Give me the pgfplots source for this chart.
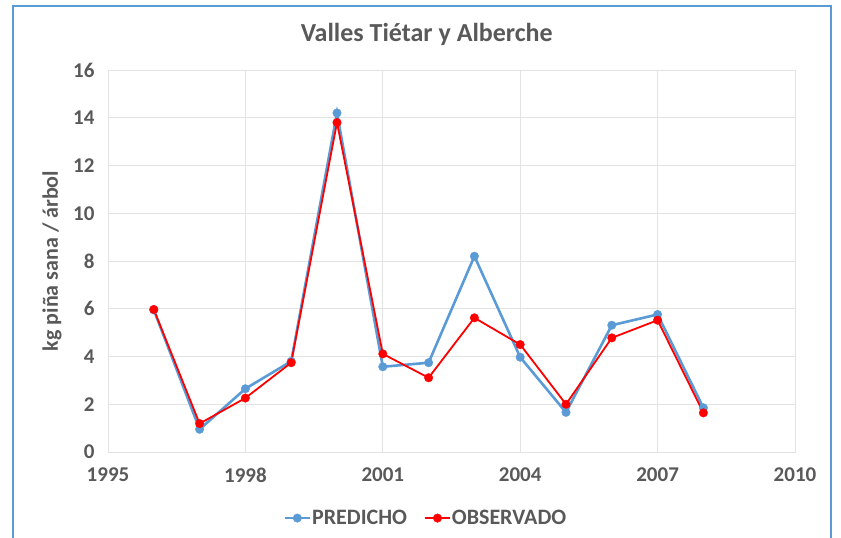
\documentclass[border=0pt]{standalone}
\usepackage{fontspec}
\setmainfont{Carlito}
\usepackage{pgfplots}
\pgfplotsset{compat=1.18}
\definecolor{pblue}{HTML}{5B9BD5}
\definecolor{pred}{HTML}{FF0000}
\definecolor{txt}{HTML}{595959}
\definecolor{gridc}{HTML}{E3E3E3}
\begin{document}
\begin{tikzpicture}[x=1pt,y=1pt]
\path[use as bounding box] (0,0) rectangle (841,538);
\draw[pblue, line width=1.2pt] (13,-10) rectangle (831,532);
\begin{axis}[
  at={(108pt,86pt)}, anchor=south west,
  scale only axis, width=687pt, height=382pt,
  xmin=1995, xmax=2010, ymin=0, ymax=16,
  xtick={1995,1998,2001,2004,2007,2010},
  ytick={0,2,4,6,8,10,12,14,16},
  grid=major, grid style={gridc, line width=0.8pt},
  axis line style={gridc, line width=0.8pt},
  major tick length=0pt,
  /pgf/number format/assume math mode=true,
  /pgf/number format/1000 sep={},
  tick label style={font=\fontsize{21}{25}\selectfont\bfseries, text=txt},
  xticklabel style={yshift=-12pt},
  yticklabel style={xshift=-10pt},
  ylabel={kg piña sana / árbol},
  ylabel style={font=\fontsize{22}{26}\selectfont\bfseries, text=txt, at={(rel axis cs:0,0.5)}, anchor=center, yshift=56pt},
  title={Valles Tiétar y Alberche},
  title style={at={(rel axis cs:0.464,1)}, anchor=center, yshift=30pt, font=\fontsize{26}{31}\selectfont\bfseries, text=txt},
  legend style={at={(0.462,-0.173)}, anchor=center, draw=none, fill=none,
    font=\fontsize{22}{26}\selectfont\bfseries, text=txt, legend columns=2,
    /tikz/every even column/.append style={column sep=16pt},
    nodes={inner xsep=1pt}},
  legend cell align=left,
  legend image code/.code={\draw[mark repeat=2, mark phase=2, #1] plot coordinates {(0pt,0pt) (12.5pt,0pt) (25pt,0pt)};},
]
\addplot[pblue, line width=2.6pt, mark=*, mark size=4.3pt, mark options={solid, fill=pblue, draw=pblue, line width=0.3pt}] coordinates {
(1996,5.95) (1997,0.95) (1998,2.65) (1999,3.8) (2000,14.2) (2001,3.57) (2002,3.74)
(2003,8.2) (2004,3.97) (2005,1.66) (2006,5.31) (2007,5.76) (2008,1.85)};
\addlegendentry{PREDICHO}
\addplot[pred, line width=1.8pt, mark=*, mark size=4.3pt, mark options={solid, fill=pred, draw=pred, line width=0.3pt}] coordinates {
(1996,5.97) (1997,1.19) (1998,2.26) (1999,3.74) (2000,13.8) (2001,4.11) (2002,3.11)
(2003,5.62) (2004,4.5) (2005,2.0) (2006,4.78) (2007,5.52) (2008,1.64)};
\addlegendentry{OBSERVADO}
\end{axis}
\end{tikzpicture}
\end{document}
